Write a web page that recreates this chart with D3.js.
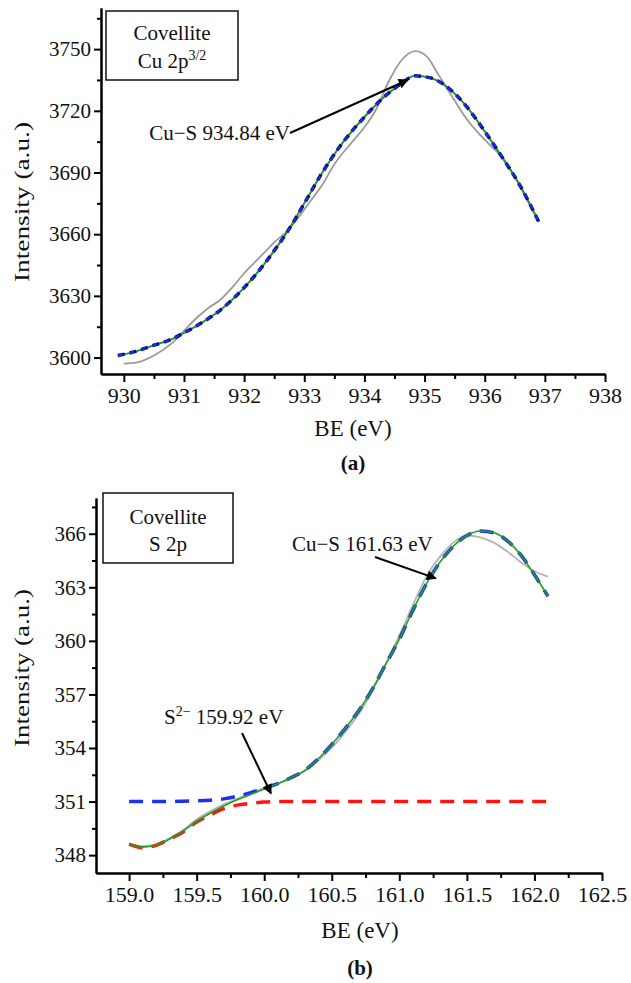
<!DOCTYPE html>
<html>
<head>
<meta charset="utf-8">
<script src="https://cdn.jsdelivr.net/npm/d3@7"></script>
<style>
  body { margin: 0; background: #fff; }
  svg text { font-family: "Liberation Serif", "DejaVu Serif", serif; fill: #111; }
</style>
</head>
<body>
<svg id="chart" width="631" height="983"></svg>
<script>

// ---- panel (a): Cu 2p3/2 ----
let topFitBE = [929.9, 930.2, 930.5, 930.8, 931.0, 931.3, 931.6, 932.0, 932.4, 932.8, 933.0, 933.3,
                933.6, 934.0, 934.3, 934.6, 934.84, 935.1, 935.4, 935.7, 936.0, 936.3, 936.6, 936.9];
let topFitInt = [3601, 3603, 3606, 3609, 3612, 3617, 3623, 3634, 3648, 3665, 3675, 3690,
                 3703, 3717, 3726, 3733, 3737, 3736, 3731, 3722, 3710, 3697, 3683, 3666];
let topRawBE = [930.0, 930.2, 930.5, 930.8, 931.0, 931.2, 931.4, 931.6, 931.8, 932.0, 932.2, 932.4,
                932.5, 932.7, 932.9, 933.1, 933.3, 933.5, 933.8, 934.0, 934.2, 934.4, 934.6, 934.85,
                935.05, 935.2, 935.35, 935.5, 935.7, 935.9, 936.1, 936.3, 936.5, 936.7, 936.9];
let topRawInt = [3597, 3597.5, 3601, 3607, 3613, 3619, 3624, 3628, 3634, 3641, 3647, 3653,
                 3656, 3661, 3668, 3676, 3684, 3694, 3705, 3712, 3721, 3734, 3744, 3749,
                 3746, 3739, 3732, 3725, 3716, 3709, 3703, 3697, 3688, 3677, 3666];
let topXTicks = [930, 931, 932, 933, 934, 935, 936, 937, 938];
let topYTicks = [3600, 3630, 3660, 3690, 3720, 3750];

// ---- panel (b): S 2p ----
let botBE = [159.0, 159.1, 159.2, 159.3, 159.4, 159.5, 159.6, 159.7, 159.8, 159.9, 160.0, 160.1,
             160.2, 160.3, 160.4, 160.5, 160.6, 160.7, 160.8, 160.9, 161.0, 161.1, 161.2, 161.3,
             161.4, 161.5, 161.6, 161.7, 161.8, 161.9, 162.0, 162.1];
let botRaw = [348.6, 348.5, 348.6, 348.95, 349.4, 350.0, 350.45, 350.85, 351.15, 351.5, 351.75, 352.0,
              352.3, 352.7, 353.3, 354.0, 354.9, 355.9, 357.2, 358.7, 360.3, 362.0, 363.6, 364.7,
              365.5, 365.9, 365.8, 365.5, 365.0, 364.4, 363.9, 363.6];
let botFit = [348.62, 348.45, 348.55, 348.9, 349.35, 349.9, 350.35, 350.75, 351.1, 351.4, 351.7, 352.0,
              352.35, 352.75, 353.4, 354.2, 355.1, 356.1, 357.3, 358.7, 360.1, 361.7, 363.2, 364.4,
              365.3, 365.9, 366.15, 366.05, 365.6, 364.8, 363.7, 362.5];
let botCuS = [351.0, 351.0, 351.0, 351.0, 351.02, 351.04, 351.08, 351.15, 351.3, 351.5, 351.75, 352.0,
              352.35, 352.75, 353.4, 354.2, 355.1, 356.1, 357.3, 358.7, 360.1, 361.7, 363.2, 364.4,
              365.3, 365.9, 366.15, 366.05, 365.6, 364.8, 363.7, 362.5];
let botS2 = [348.62, 348.42, 348.55, 348.9, 349.3, 349.85, 350.25, 350.6, 350.8, 350.9, 350.97, 351.0,
             351.0, 351.0, 351.0, 351.0, 351.0, 351.0, 351.0, 351.0, 351.0, 351.0, 351.0, 351.0,
             351.0, 351.0, 351.0, 351.0, 351.0, 351.0, 351.0, 351.0];
let botXTicks = [159.0, 159.5, 160.0, 160.5, 161.0, 161.5, 162.0, 162.5];
let botYTicks = [348, 351, 354, 357, 360, 363, 366];

const SERIF = '"Liberation Serif", "DejaVu Serif", serif';

let svg = d3.select('#chart');

svg.append('defs').append('marker')
    .attr('id', 'arrow')
    .attr('viewBox', '0 0 10 10')
    .attr('refX', 9).attr('refY', 5)
    .attr('markerUnits', 'userSpaceOnUse')
    .attr('markerWidth', 13).attr('markerHeight', 10)
    .attr('orient', 'auto')
  .append('path')
    .attr('d', 'M0,0 L10,5 L0,10 z')
    .attr('fill', '#000');

function zip(xs, ys) { return xs.map(function(d, i) { return [d, ys[i]]; }); }

function drawAxes(g, x, y, xTicks, xMinor, yTicks, yMinor, xFmt) {
  let xa = g.append('g')
      .attr('transform', 'translate(0,' + y.range()[0] + ')')
      .call(d3.axisBottom(x).tickValues(xTicks).tickSize(8).tickSizeOuter(0).tickPadding(5).tickFormat(xFmt));
  g.append('g')
      .attr('transform', 'translate(0,' + y.range()[0] + ')')
      .call(d3.axisBottom(x).tickValues(xMinor).tickSize(5).tickSizeOuter(0).tickFormat(''));
  let ya = g.append('g')
      .attr('transform', 'translate(' + x.range()[0] + ',0)')
      .call(d3.axisLeft(y).tickValues(yTicks).tickSize(7).tickSizeOuter(0).tickPadding(3).tickFormat(d3.format('d')));
  g.append('g')
      .attr('transform', 'translate(' + x.range()[0] + ',0)')
      .call(d3.axisLeft(y).tickValues(yMinor).tickSize(4).tickSizeOuter(0).tickFormat(''));
  g.selectAll('g').attr('font-family', SERIF);
  g.selectAll('.domain, .tick line').attr('stroke', '#000').attr('stroke-width', 2);
  g.selectAll('.tick text').attr('font-size', 21).attr('fill', '#111');
  xa.selectAll('.tick text').attr('font-size', 22);
}

function drawLine(g, pts, x, y, color, w, dash) {
  let line = d3.line()
      .x(function(d) { return x(d[0]); })
      .y(function(d) { return y(d[1]); })
      .curve(d3.curveMonotoneX);
  g.append('path')
      .datum(pts)
      .attr('d', line)
      .attr('fill', 'none')
      .attr('stroke', color)
      .attr('stroke-width', w)
      .attr('stroke-dasharray', dash || null);
}

function box(g, x0, y0, w, h) {
  g.append('rect')
      .attr('x', x0).attr('y', y0).attr('width', w).attr('height', h)
      .attr('fill', '#fff').attr('stroke', '#111').attr('stroke-width', 1.5);
}

// ---------- panel a ----------
let xa = d3.scaleLinear().domain([929.62, 938]).range([101, 605]);
let ya = d3.scaleLinear().domain([3592, 3770]).range([374, 8]);
let ga = svg.append('g');

drawAxes(ga, xa, ya, topXTicks, [930.5, 931.5, 932.5, 933.5, 934.5, 935.5, 936.5, 937.5],
         topYTicks, [3615, 3645, 3675, 3705, 3735, 3765], d3.format('d'));

drawLine(ga, zip(topRawBE, topRawInt), xa, ya, '#9a9a9a', 1.8);
drawLine(ga, zip(topFitBE, topFitInt), xa, ya, '#1f9a1f', 2);
drawLine(ga, zip(topFitBE, topFitInt), xa, ya, '#0b0b80', 3.5, '7,5');
drawLine(ga, zip(topFitBE, topFitInt), xa, ya, '#1c2cf0', 2, '5,7');

box(ga, 106, 11, 132, 69);
ga.append('text').attr('x', 172).attr('y', 40).attr('text-anchor', 'middle').attr('font-size', 21).text('Covellite');
let t1 = ga.append('text').attr('x', 172).attr('y', 68).attr('text-anchor', 'middle').attr('font-size', 21);
t1.append('tspan').text('Cu 2p');
t1.append('tspan').attr('font-size', 14).attr('dy', -8).text('3/2');

ga.append('text').attr('x', 290).attr('y', 140).attr('text-anchor', 'end').attr('font-size', 21)
    .text('Cu\u2212S 934.84 eV');
ga.append('line')
    .attr('x1', 290).attr('y1', 133)
    .attr('x2', xa(934.72)).attr('y2', ya(3735))
    .attr('stroke', '#000').attr('stroke-width', 2)
    .attr('marker-end', 'url(#arrow)');

ga.append('text')
    .attr('transform', 'translate(29,202) rotate(-90)')
    .attr('text-anchor', 'middle').attr('font-size', 22)
    .attr('textLength', 160).attr('lengthAdjust', 'spacingAndGlyphs')
    .text('Intensity (a.u.)');
ga.append('text').attr('x', 353).attr('y', 436).attr('text-anchor', 'middle').attr('font-size', 23).text('BE (eV)');
ga.append('text').attr('x', 353).attr('y', 470).attr('text-anchor', 'middle').attr('font-size', 21)
    .attr('font-weight', 'bold').text('(a)');

// ---------- panel b ----------
let xb = d3.scaleLinear().domain([158.755, 162.5]).range([96, 602]);
let yb = d3.scaleLinear().domain([347, 368]).range([873, 498]);
let gb = svg.append('g');

drawAxes(gb, xb, yb, botXTicks, [159.25, 159.75, 160.25, 160.75, 161.25, 161.75, 162.25],
         botYTicks, [349.5, 352.5, 355.5, 358.5, 361.5, 364.5, 367.5], d3.format('.1f'));

drawLine(gb, zip(botBE, botRaw), xb, yb, '#b4b4b4', 1.8);
drawLine(gb, zip(botBE, botS2), xb, yb, '#ff1414', 3.5, '14,9');
drawLine(gb, zip(botBE, botCuS), xb, yb, '#1b34e8', 3.5, '14,9');
drawLine(gb, zip(botBE, botFit), xb, yb, '#20a020', 1.6);

box(gb, 103, 493, 130, 70);
gb.append('text').attr('x', 168).attr('y', 524).attr('text-anchor', 'middle').attr('font-size', 21).text('Covellite');
gb.append('text').attr('x', 168).attr('y', 551).attr('text-anchor', 'middle').attr('font-size', 21).text('S 2p');

gb.append('text').attr('x', 292).attr('y', 551).attr('font-size', 21).text('Cu\u2212S 161.63 eV');
gb.append('line')
    .attr('x1', 375).attr('y1', 557)
    .attr('x2', xb(161.27)).attr('y2', yb(363.5))
    .attr('stroke', '#000').attr('stroke-width', 2)
    .attr('marker-end', 'url(#arrow)');

let t2 = gb.append('text').attr('x', 164).attr('y', 724).attr('font-size', 21);
t2.append('tspan').text('S');
t2.append('tspan').attr('font-size', 14).attr('dy', -8).text('2\u2212');
t2.append('tspan').attr('dy', 8).text(' 159.92 eV');
gb.append('line')
    .attr('x1', 242).attr('y1', 733)
    .attr('x2', xb(160.05)).attr('y2', yb(351.45))
    .attr('stroke', '#000').attr('stroke-width', 2)
    .attr('marker-end', 'url(#arrow)');

gb.append('text')
    .attr('transform', 'translate(29,668) rotate(-90)')
    .attr('text-anchor', 'middle').attr('font-size', 22)
    .attr('textLength', 158).attr('lengthAdjust', 'spacingAndGlyphs')
    .text('Intensity (a.u.)');
gb.append('text').attr('x', 360).attr('y', 938).attr('text-anchor', 'middle').attr('font-size', 23).text('BE (eV)');
gb.append('text').attr('x', 360).attr('y', 975).attr('text-anchor', 'middle').attr('font-size', 21)
    .attr('font-weight', 'bold').text('(b)');

</script>
</body>
</html>
